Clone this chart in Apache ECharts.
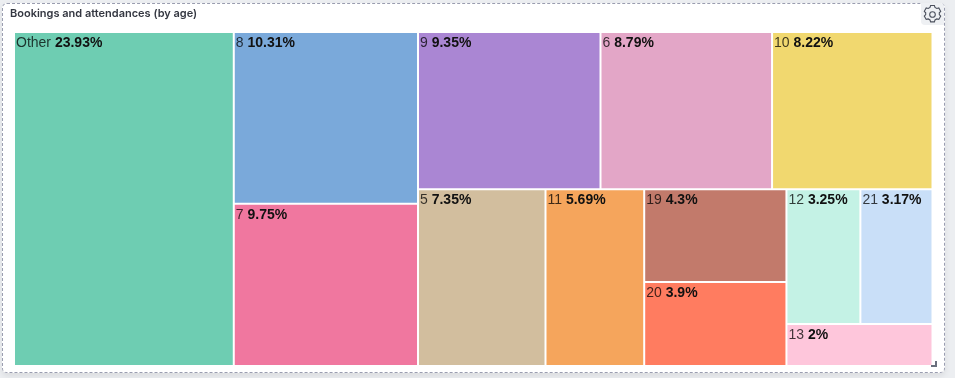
<!DOCTYPE html>
<html>
<head>
<meta charset="utf-8">
<style>
html,body{margin:0;padding:0;width:955px;height:378px;overflow:hidden;background:#eceef1}
#card{position:absolute;left:2px;top:3px;width:941px;height:368px;background:#fff;border:1px dashed #9a9db0;border-radius:5px;box-shadow:0 3px 6px rgba(0,0,0,.08)}
#chart{position:absolute;left:0;top:0;width:955px;height:378px}
#gear{position:absolute;left:921px;top:3px;width:23px;height:22px;background:#eef0f3;border-radius:0 4px 0 4px}
#grip{position:absolute;left:931px;top:361px;width:4px;height:4px;border-right:2px solid #6a6f7d;border-bottom:2px solid #6a6f7d}
</style>
</head>
<body>
<div id="card"></div>
<div id="gear"><svg width="23" height="22" viewBox="0 0 23 22"><path d="M9.6 4h3.8l.6 2 1.8 1 2-.5 1.9 3.3-1.4 1.5v1.8l1.4 1.5-1.9 3.3-2-.5-1.8 1-.6 2H9.6l-.6-2-1.8-1-2 .5-1.9-3.3 1.4-1.5v-1.8L3.300 9.800l1.900-3.300 2 .5 1.800-1z" transform="translate(0 -1.500)" fill="none" stroke="#4a4f5c" stroke-width="1.100"/><circle cx="11.500" cy="11.500" r="2.800" fill="none" stroke="#4a4f5c" stroke-width="1.100"/></svg></div>
<div id="chart"></div>
<div id="grip"></div>
<script src="https://cdn.jsdelivr.net/npm/echarts@6/dist/echarts.min.js"></script>
<script>
const titleText = 'Bookings and attendances (by age)';
const categories = ['Other','8','7','9','6','10','5','11','19','20','12','21','13'];
const percents = [23.93,10.31,9.75,9.35,8.79,8.22,7.35,5.69,4.3,3.9,3.25,3.17,2];
const colors = ['#6ECDB2','#7AA9DA','#F0779F','#AA86D3','#E3A6C7','#F1D86F','#D2BE9E','#F5A55C','#C27A6B','#FF7C60','#C4F2E5','#C9DFF8','#FEC6DB'];

const leaf = name => {
  const i = categories.indexOf(name);
  return {name, value: percents[i], itemStyle: {color: colors[i]}};
};
const group = (...kids) => ({name: '', children: kids});
const sumOf = nodes => nodes.reduce((s, n) => s + (n.children ? sumOf(n.children) : n.value), 0);

// Tile arrangement: the left block, then an upper and a lower strip on the right.
const leftBlock = [leaf('Other'), group(leaf('8'), leaf('7'))];
const topStrip = [leaf('9'), leaf('6'), leaf('10')];
const bottomStrip = [
  leaf('5'), leaf('11'),
  group(leaf('19'), leaf('20')),
  group(group(leaf('12'), leaf('21')), leaf('13'))
];

// Plot box; the three treemaps share it in proportion to their totals.
const box = {x: 14, y: 32, w: 918.5, h: 334};
const sumL = sumOf(leftBlock), sumT = sumOf(topStrip), sumB = sumOf(bottomStrip);
const leftW = box.w * sumL / (sumL + sumT + sumB);
const rightW = box.w - leftW;
const topH = box.h * sumT / (sumT + sumB);

const treemap = (data, left, top, width, height) => ({
  type: 'treemap',
  left, top, width, height,
  roam: false, nodeClick: false,
  silent: true,
  breadcrumb: {show: false},
  sort: false,
  squareRatio: 1,
  visibleMin: 0,
  itemStyle: {borderWidth: 0, gapWidth: 0},
  levels: [{itemStyle: {borderWidth: 0, gapWidth: 0}}],
  label: {
    show: true, position: 'insideTopLeft', distance: 0, padding: [3, 0, 0, 1],
    color: 'rgba(0,0,0,0.75)', fontFamily: 'Liberation Sans', fontSize: 14,
    formatter: p => p.name + ' {b|' + p.value + '%}',
    rich: {b: {fontWeight: 'bold', color: '#111', fontSize: 14, fontFamily: 'Liberation Sans'}}
  },
  data: withBorder(data)
});
function withBorder(nodes) {
  return nodes.map(n => n.children
    ? {...n, children: withBorder(n.children), itemStyle: {borderWidth: 0, gapWidth: 0}}
    : {...n, itemStyle: {...n.itemStyle, borderColor: '#fff', borderWidth: 1}});
}

const chart = echarts.init(document.getElementById('chart'), null, {renderer: 'canvas'});
chart.setOption({
  animation: false,
  title: {text: titleText, left: 10, top: 8, padding: 0,
    textStyle: {fontFamily: 'Inter', fontSize: 11, fontWeight: 600, color: '#343741'}},
  series: [
    treemap(leftBlock, box.x, box.y, leftW, box.h),
    treemap(topStrip, box.x + leftW, box.y, rightW, topH),
    treemap(bottomStrip, box.x + leftW, box.y + topH, rightW, box.h - topH)
  ]
});
</script>
</body>
</html>
